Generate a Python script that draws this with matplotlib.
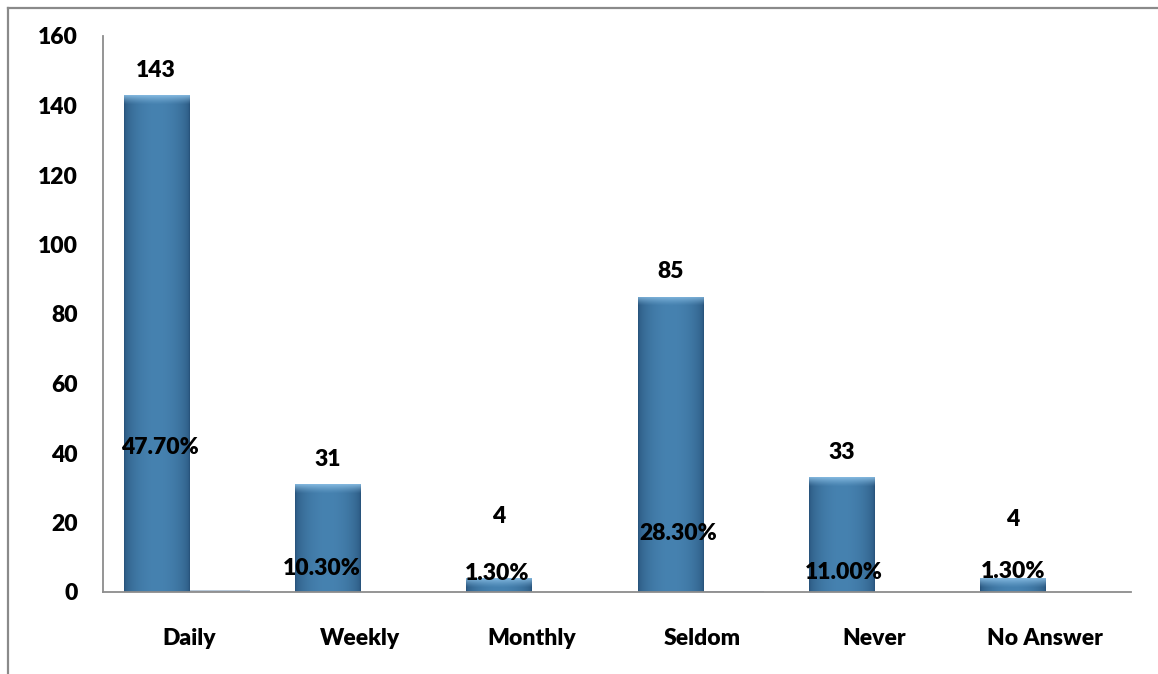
import numpy as np
import matplotlib
matplotlib.use("Agg")
import matplotlib.pyplot as plt
from matplotlib.lines import Line2D
from matplotlib import font_manager

# Survey responses: how often respondents use the service
categories = ["Daily", "Weekly", "Monthly", "Seldom", "Never", "No Answer"]
counts = [143, 31, 4, 85, 33, 4]
percents = [47.70, 10.30, 1.30, 28.30, 11.00, 1.30]
y_ticks = [0, 20, 40, 60, 80, 100, 120, 140, 160]

# Label placement (x offset from category, y in axis units) for the percent labels
pct_label_xy = [(-0.17, 41.7), (-0.22, 6.8), (-0.20, 5.3),
                (-0.14, 16.8), (-0.175, 5.6), (-0.19, 5.9)]
# Vertical offset (pixels) of each count label above its bar
count_label_dy = [25, 25, 62, 25, 25, 59]

plt.rcParams["font.family"] = ["Lato", "DejaVu Sans"]
WEIGHT = "heavy"
FS = 16.5

W, H = 1158, 674
fig = plt.figure(figsize=(W / 100, H / 100), dpi=100)
ax = fig.add_axes([103 / W, 1 - 592 / H, (1131 - 103) / W, (592 - 36) / H])

x = np.arange(len(categories))
bw_count = 0.38
bw_pct = 0.36
ax.set_xlim(-0.5, len(categories) - 0.5)
ax.set_ylim(0, 160)

edge_dark = np.array([40, 84, 124]) / 255
mid = np.array([70, 130, 176]) / 255
bevel = np.array([140, 192, 230]) / 255

count_bars = ax.bar(x - bw_count / 2, counts, width=bw_count,
                    color=mid, edgecolor="none", zorder=2)
pct_bars = ax.bar(x + bw_pct / 2, np.array(percents) / 100, width=bw_pct,
                  color="#b9c9d8", edgecolor="none", zorder=2)

# Shaded fill for the count bars: darker sides and a lighter bevel on top
fig.canvas.draw()
px_per_unit = ax.transData.transform((0, 1))[1] - ax.transData.transform((0, 0))[1]
for patch in count_bars:
    x0, w, h = patch.get_x(), patch.get_width(), patch.get_height()
    npx = max(int(round(h * px_per_unit)), 2)
    nx = 64
    t = np.linspace(0, 1, nx)
    prof = np.sin(np.pi * t) ** 0.5
    row = edge_dark[None, :] + (mid - edge_dark)[None, :] * prof[:, None]
    img = np.repeat(row[None, :, :], npx, axis=0)
    bev = min(9, npx)
    for i in range(bev):
        a = (1 - i / bev) ** 1.3 * 0.85
        img[i] = img[i] * (1 - a) + bevel * a
    im = ax.imshow(img, extent=(x0, x0 + w, 0, h), aspect="auto",
                   origin="upper", zorder=2.5, interpolation="bilinear")
    im.set_clip_path(patch)

# Count labels above the bars
for xi, c, dy in zip(x, counts, count_label_dy):
    ax.annotate(f"{c}", (xi - bw_count / 2, c), xytext=(0, dy * 0.72),
                textcoords="offset points", ha="center", va="center",
                fontsize=FS, fontweight=WEIGHT, color="black", zorder=4)

# Percent labels
for xi, p, (dx, yy) in zip(x, percents, pct_label_xy):
    ax.text(xi + dx, yy, f"{p:.2f}%", ha="center", va="center",
            fontsize=FS, fontweight=WEIGHT, color="black", zorder=4)

ax.set_yticks(y_ticks)
ax.set_yticklabels([str(v) for v in y_ticks], fontsize=FS, fontweight=WEIGHT)
ax.set_xticks(x)
ax.set_xticklabels(categories, fontsize=FS, fontweight=WEIGHT)
ax.tick_params(axis="y", length=0, pad=18)
ax.tick_params(axis="x", length=0, pad=26)

for s in ["top", "right"]:
    ax.spines[s].set_visible(False)
for s in ["left", "bottom"]:
    ax.spines[s].set_color("#8c8c8c")
    ax.spines[s].set_linewidth(1.3)

# Outer chart frame (top and left edges)
fx = 8 / W
fy = 1 - 8 / H
fig.add_artist(Line2D([fx, 1], [fy, fy], transform=fig.transFigure,
                      color="#8a8a8a", lw=1.6))
fig.add_artist(Line2D([fx, fx], [0, fy], transform=fig.transFigure,
                      color="#8a8a8a", lw=1.6))

fig.savefig("out.png", dpi=100)
